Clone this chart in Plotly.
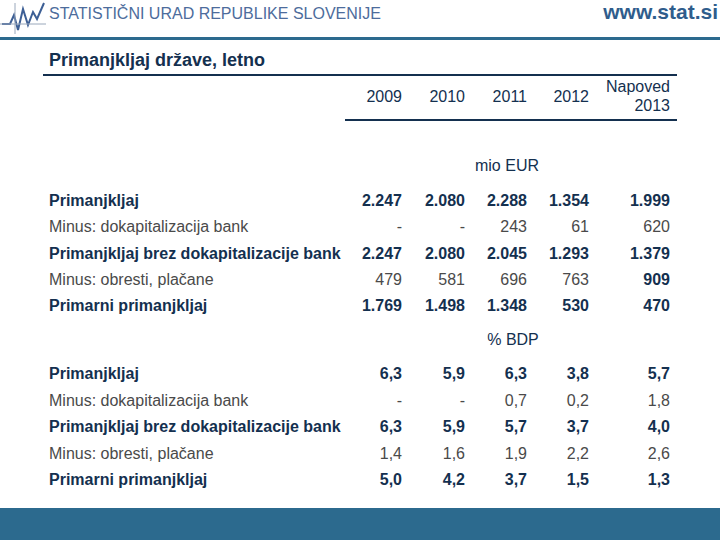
import plotly.graph_objects as go

# --- data -------------------------------------------------------------
years = ["2009", "2010", "2011", "2012"]
forecast_header = ["Napoved", "2013"]

row_labels = [
    "Primanjkljaj",
    "Minus: dokapitalizacija bank",
    "Primanjkljaj brez dokapitalizacije bank",
    "Minus: obresti, plačane",
    "Primarni primanjkljaj",
]
row_bold = [True, False, True, False, True]

mio_eur = [
    [2247, 2080, 2288, 1354, 1999],
    [None, None, 243, 61, 620],
    [2247, 2080, 2045, 1293, 1379],
    [479, 581, 696, 763, 909],
    [1769, 1498, 1348, 530, 470],
]
pct_bdp = [
    [6.3, 5.9, 6.3, 3.8, 5.7],
    [None, None, 0.7, 0.2, 1.8],
    [6.3, 5.9, 5.7, 3.7, 4.0],
    [1.4, 1.6, 1.9, 2.2, 2.6],
    [5.0, 4.2, 3.7, 1.5, 1.3],
]
# the 2013 interest figure is printed bold in the source table
bold_cells = {("mio", 3, 4)}

# --- layout helpers ---------------------------------------------------
W, H = 720, 540
NAVY = "#14304f"
GREY = "#4a4a4a"
BLUE = "#2c6a8e"
FONT = "Liberation Sans, Arial, sans-serif"
SIZE = 16

col_right = [402, 465, 527, 589, 670]
label_x = 49


def fmt_mio(v):
    return "-" if v is None else f"{v:,}".replace(",", ".")


def fmt_pct(v):
    return "-" if v is None else f"{v:.1f}".replace(".", ",")


fig = go.Figure()


def add_text(xs, ys, texts, pos, size, color, bold=False):
    fig.add_trace(go.Scatter(
        x=xs, y=ys, text=texts, mode="text", textposition=pos,
        textfont=dict(size=size, color=color, family=FONT,
                      weight="bold" if bold else "normal"),
        hoverinfo="skip", showlegend=False,
    ))


# header band
add_text([49], [15], ["STATISTIČNI URAD REPUBLIKE SLOVENIJE"], "middle right", 16, "#4d6c9c")
add_text([718], [14], ["www.stat.si"], "middle left", 21, "#2f5d8c", bold=True)
add_text([49], [61], ["Primanjkljaj države, letno"], "middle right", 18, NAVY, bold=True)

# column headers
for i, yr in enumerate(years):
    add_text([col_right[i]], [98], [yr], "middle left", SIZE, NAVY)
add_text([col_right[4]], [88], [forecast_header[0]], "middle left", SIZE, NAVY)
add_text([col_right[4]], [107], [forecast_header[1]], "middle left", SIZE, NAVY)

add_text([507], [167], ["mio EUR"], "middle center", SIZE, NAVY)
add_text([513], [341], ["% BDP"], "middle center", SIZE, NAVY)


def add_block(values, fmt, y0, step, key):
    for r, label in enumerate(row_labels):
        y = y0 + r * step
        bold = row_bold[r]
        add_text([label_x], [y], [label], "middle right", SIZE,
                 NAVY if bold else GREY, bold=bold)
        for c, v in enumerate(values[r]):
            b = bold or (key, r, c) in bold_cells
            add_text([col_right[c]], [y], [fmt(v)], "middle left", SIZE,
                     NAVY if b else GREY, bold=b)


add_block(mio_eur, fmt_mio, 202, 26.3, "mio")
add_block(pct_bdp, fmt_pct, 375, 26.5, "pct")

shapes = [
    # top rule under the logo band
    dict(type="line", x0=0, x1=W, y0=38.5, y1=38.5, line=dict(color=BLUE, width=3)),
    # title underline / table top
    dict(type="line", x0=43, x1=677, y0=75, y1=75, line=dict(color=NAVY, width=2)),
    # header bottom rule
    dict(type="line", x0=345, x1=677, y0=120, y1=120, line=dict(color=NAVY, width=2)),
    # bottom band
    dict(type="rect", x0=0, x1=W, y0=508, y1=H, line=dict(width=0), fillcolor=BLUE),
    # small logo mark
    dict(type="path", path="M2,24 L10,24 L14,15 L18,30 L23,9 L28,25 L33,12 L37,19 L44,3",
         line=dict(color="#3d5f95", width=2)),
    dict(type="line", x0=0, x1=46, y0=24, y1=24, line=dict(color="#9aa8bb", width=1)),
    dict(type="line", x0=15, x1=15, y0=3, y1=34, line=dict(color="#9aa8bb", width=1)),
]

fig.update_layout(
    width=W, height=H,
    margin=dict(l=0, r=0, t=0, b=0),
    paper_bgcolor="white", plot_bgcolor="white",
    xaxis=dict(range=[0, W], visible=False, fixedrange=True),
    yaxis=dict(range=[H, 0], visible=False, fixedrange=True),
    shapes=shapes,
)

# page body has a default 8px margin; drop it so the slide fills the window
fig.write_html(
    "out.html",
    config={"displayModeBar": False},
    post_script="document.body.style.margin='0';document.body.style.overflow='hidden';",
)
